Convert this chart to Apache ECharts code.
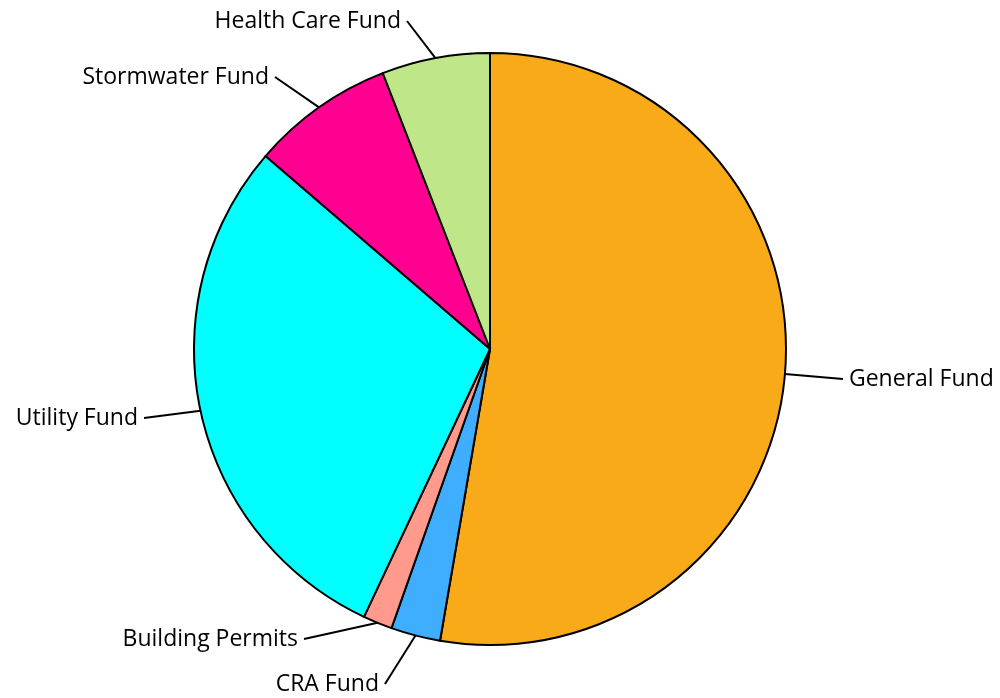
<!DOCTYPE html>
<html>
<head>
<meta charset="utf-8">
<script src="https://cdn.jsdelivr.net/npm/echarts@6/dist/echarts.min.js"></script>
<style>html,body{margin:0;padding:0;background:#fff}#c{width:1000px;height:698px}</style>
</head>
<body>
<div id="c"></div>
<script>
const categories = ['General Fund', 'CRA Fund', 'Building Permits', 'Utility Fund', 'Stormwater Fund', 'Health Care Fund'];
const values = [52.7, 2.7, 1.6, 29.3, 7.8, 5.9];
const colors = ['#F8AA19', '#40AEFF', '#FF9A8C', '#00FFFF', '#FF0090', '#BFE689'];

// label anchor placement (layout only)
const labelPlace = [
  {x: 843, y: 379, align: 'left'},
  {x: 385, y: 684, align: 'right'},
  {x: 304, y: 639, align: 'right'},
  {x: 144, y: 418, align: 'right'},
  {x: 275, y: 77, align: 'right'},
  {x: 407, y: 21, align: 'right'}
];

const chart = echarts.init(document.getElementById('c'), null, {renderer: 'canvas'});
chart.setOption({
  animation: false,
  backgroundColor: '#ffffff',
  series: [{
    type: 'pie',
    center: [490, 349],
    radius: 296,
    startAngle: 90,
    clockwise: true,
    avoidLabelOverlap: false,
    data: categories.map((c, i) => ({name: c, value: values[i], itemStyle: {color: colors[i]}})),
    itemStyle: {borderColor: '#000', borderWidth: 2},
    label: {
      show: true,
      formatter: function (p) {
        return labelPlace[p.dataIndex].align === 'left' ? ' ' + p.name : p.name + ' ';
      },
      color: '#000',
      fontSize: 23,
      fontFamily: '"Open Sans", sans-serif'
    },
    labelLine: {
      show: true,
      length: 30,
      length2: 0,
      smooth: false,
      lineStyle: {color: '#000', width: 2}
    },
    labelLayout: function (p) {
      const L = labelPlace[p.dataIndex];
      return {x: L.x, y: L.y, align: L.align, verticalAlign: 'middle', hideOverlap: false};
    }
  }]
});
</script>
</body>
</html>
